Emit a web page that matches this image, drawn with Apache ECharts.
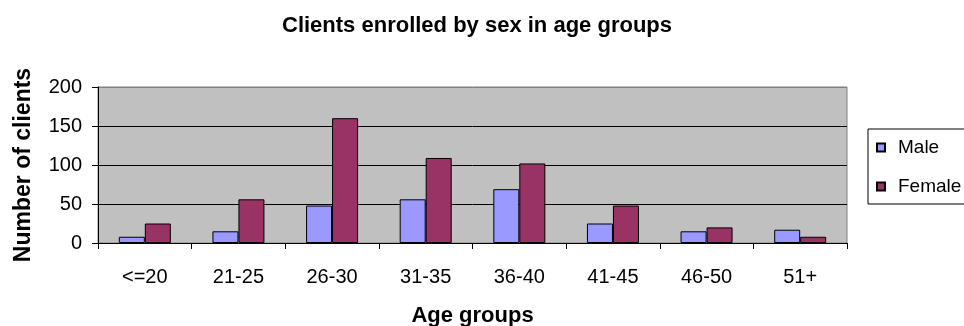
<!DOCTYPE html>
<html>
<head>
<meta charset="utf-8">
<script src="https://cdn.jsdelivr.net/npm/echarts@6/dist/echarts.min.js"></script>
<style>
  html, body { margin: 0; padding: 0; background: #fff; }
  #chart { width: 964px; height: 326px; }
</style>
</head>
<body>
<div id="chart"></div>
<script>
// Age groups on the category axis
const ageGroups = ['<=20', '21-25', '26-30', '31-35', '36-40', '41-45', '46-50', '51+'];
// Clients enrolled per age group
const maleClients = [8, 15, 48, 56, 69, 25, 15, 17];
const femaleClients = [25, 56, 160, 109, 102, 48, 20, 8];
// Value axis ticks
const yTicks = [0, 50, 100, 150, 200];

const FONT = "'Liberation Sans', Arial, sans-serif";

const chart = echarts.init(document.getElementById('chart'), null, { renderer: 'canvas' });

chart.setOption({
  animation: false,
  backgroundColor: '#ffffff',
  title: {
    text: 'Clients enrolled by sex in age groups',
    left: 477,
    top: 15,
    textAlign: 'center',
    padding: 0,
    textStyle: { fontFamily: FONT, fontSize: 22, fontWeight: 'bold', color: '#000' }
  },
  legend: {
    orient: 'vertical',
    left: 868,
    top: 129,
    padding: [9, 4, 8, 8],
    itemGap: 20,
    itemWidth: 8,
    itemHeight: 8,
    icon: 'rect',
    borderColor: '#000',
    borderWidth: 1,
    backgroundColor: '#fff',
    textStyle: { fontFamily: FONT, fontSize: 19, color: '#000', padding: [0, 0, 0, 8] },
    data: ['Male', 'Female']
  },
  grid: {
    left: 98,
    right: 117,
    top: 87,
    bottom: 83,
    outerBoundsMode: 'none',
    containLabel: false,
    show: true,
    backgroundColor: '#C0C0C0',
    borderColor: '#808080',
    borderWidth: 1
  },
  xAxis: {
    type: 'category',
    data: ageGroups,
    name: 'Age groups',
    nameLocation: 'middle',
    nameGap: 62,
    nameTextStyle: { fontFamily: FONT, fontSize: 22, fontWeight: 'bold', color: '#000', verticalAlign: 'top' },
    axisLine: { lineStyle: { color: '#000', width: 1 } },
    axisTick: { show: true, length: 6, lineStyle: { color: '#000' } },
    axisLabel: { fontFamily: FONT, fontSize: 20, color: '#000', margin: 24 },
    splitLine: { show: false }
  },
  yAxis: {
    type: 'value',
    min: yTicks[0],
    max: yTicks[yTicks.length - 1],
    interval: yTicks[1] - yTicks[0],
    name: 'Number of clients',
    nameLocation: 'middle',
    nameGap: 63,
    nameRotate: 90,
    nameTextStyle: { fontFamily: FONT, fontSize: 23, fontWeight: 'bold', color: '#000' },
    axisLine: { show: true, lineStyle: { color: '#000', width: 1 } },
    axisTick: { show: true, length: 6, lineStyle: { color: '#000' } },
    axisLabel: { fontFamily: FONT, fontSize: 20, color: '#000', margin: 16 },
    splitLine: { show: true, lineStyle: { color: ['#000', '#000', '#000', '#000', '#808080'], width: 1 } }
  },
  series: [
    {
      name: 'Male',
      type: 'bar',
      data: maleClients,
      barWidth: 26,
      barGap: '0%',
      itemStyle: { color: '#9999FF', borderColor: '#000', borderWidth: 1 }
    },
    {
      name: 'Female',
      type: 'bar',
      data: femaleClients,
      barWidth: 26,
      barGap: '0%',
      itemStyle: { color: '#993366', borderColor: '#000', borderWidth: 1 }
    }
  ]
});
</script>
</body>
</html>
